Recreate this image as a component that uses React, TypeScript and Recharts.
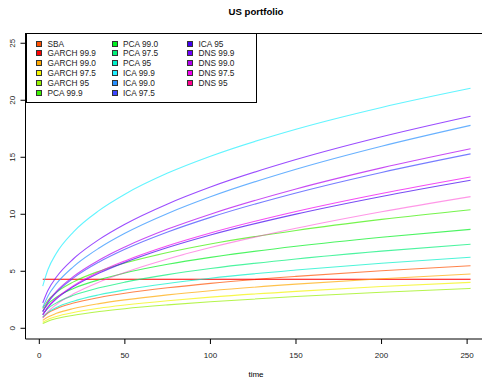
import { LineChart, Line, XAxis, YAxis } from "recharts";

const T = [2, 5, 10, 20, 35, 50, 75, 100, 150, 200, 252];

const SBA = [0.96, 1.34, 1.72, 2.21, 2.7, 3.07, 3.55, 3.94, 4.55, 5.05, 5.49];
const GARCH_999 = [4.3, 4.3, 4.3, 4.3, 4.3, 4.3, 4.3, 4.3, 4.3, 4.3, 4.3];
const GARCH_990 = [0.69, 0.99, 1.31, 1.73, 2.16, 2.49, 2.93, 3.29, 3.87, 4.34, 4.76];
const GARCH_975 = [0.53, 0.78, 1.04, 1.39, 1.76, 2.04, 2.42, 2.73, 3.24, 3.66, 4.03];
const GARCH_95 = [0.42, 0.62, 0.85, 1.15, 1.47, 1.72, 2.05, 2.33, 2.79, 3.16, 3.5];
const PCA_999 = [1.74, 2.44, 3.15, 4.07, 5.01, 5.72, 6.64, 7.39, 8.58, 9.55, 10.4];
const PCA_990 = [1.52, 2.12, 2.72, 3.49, 4.26, 4.85, 5.61, 6.22, 7.2, 7.99, 8.68];
const PCA_975 = [1.23, 1.73, 2.23, 2.89, 3.55, 4.05, 4.71, 5.24, 6.08, 6.77, 7.37];
const PCA_95 = [0.99, 1.4, 1.83, 2.38, 2.94, 3.37, 3.93, 4.39, 5.11, 5.71, 6.23];
const ICA_999 = [3.69, 5.13, 6.59, 8.46, 10.34, 11.76, 13.61, 15.09, 17.46, 19.37, 21.05];
const ICA_990 = [1.83, 2.82, 3.91, 5.41, 7.04, 8.33, 10.07, 11.53, 13.95, 15.97, 17.8];
const ICA_975 = [1.43, 2.24, 3.15, 4.42, 5.82, 6.93, 8.45, 9.73, 11.87, 13.67, 15.3];
const ICA_95 = [1.16, 1.83, 2.59, 3.66, 4.84, 5.78, 7.08, 8.18, 10.01, 11.56, 12.98];
const DNS_999 = [2.22, 3.31, 4.5, 6.1, 7.8, 9.13, 10.91, 12.39, 14.8, 16.8, 18.6];
const DNS_990 = [1.47, 2.31, 3.24, 4.55, 5.99, 7.13, 8.7, 10.01, 12.22, 14.07, 15.75];
const DNS_975 = [1.18, 1.87, 2.64, 3.74, 4.95, 5.91, 7.24, 8.36, 10.24, 11.82, 13.27];
const DNS_95 = [0.89, 1.45, 2.09, 3.02, 4.06, 4.9, 6.08, 7.08, 8.77, 10.22, 11.55];

const NAMES = [
  "SBA", "GARCH 99.9", "GARCH 99.0", "GARCH 97.5", "GARCH 95", "PCA 99.9",
  "PCA 99.0", "PCA 97.5", "PCA 95", "ICA 99.9", "ICA 99.0", "ICA 97.5",
  "ICA 95", "DNS 99.9", "DNS 99.0", "DNS 97.5", "DNS 95",
];
const COLORS = [
  "#FF5000", "#FF0000", "#FFA800", "#F4F400", "#96F000", "#3CF000",
  "#00F020", "#00F078", "#00F0C8", "#20F0FF", "#2890FF", "#3C46FF",
  "#4000F0", "#7000FF", "#B000F0", "#F000F0", "#FF0090",
];
// lines are drawn a little lighter than the legend keys
const LINE_COLORS = [...COLORS.slice(0, 16), "#FF30D0"];
const SERIES = [
  SBA, GARCH_999, GARCH_990, GARCH_975, GARCH_95, PCA_999, PCA_990, PCA_975,
  PCA_95, ICA_999, ICA_990, ICA_975, ICA_95, DNS_999, DNS_990, DNS_975, DNS_95,
];
const X_TICKS = [0, 50, 100, 150, 200, 250];
const Y_TICKS = [0, 5, 10, 15, 20, 25];

const data = T.map((t, i) => {
  const row: Record<string, number> = { t };
  SERIES.forEach((s, k) => (row["s" + k] = s[i]));
  return row;
});

const font = "'Liberation Sans', Arial, sans-serif";

const YTick = ({ y, payload }: any) => (
  <text
    x={15}
    y={y}
    transform={`rotate(-90 15 ${y})`}
    textAnchor="middle"
    fontSize={8}
    fill="#222"
    fontFamily={font}
  >
    {payload.value}
  </text>
);

export default function App() {
  return (
    <div style={{ position: "absolute", left: 0, top: 0, width: 482, height: 381, background: "#fff", fontFamily: font }}>
      <LineChart width={482} height={381} data={data} margin={{ top: 33, right: 0, bottom: 0, left: 0 }}>
        <XAxis
          dataKey="t"
          type="number"
          domain={[-8.07, 258.7]}
          ticks={X_TICKS}
          tickSize={5}
          tickMargin={8}
          height={42}
          stroke="#000"
          tick={{ fontSize: 8, fill: "#222", fontFamily: font }}
          allowDataOverflow
        />
        <YAxis
          type="number"
          domain={[-0.94, 25.9]}
          ticks={Y_TICKS}
          width={25.5}
          tickSize={5}
          stroke="#000"
          tick={<YTick />}
          allowDataOverflow
        />
        {SERIES.map((_, k) => (
          <Line
            key={k}
            type="monotone"
            dataKey={"s" + k}
            stroke={LINE_COLORS[k]}
            strokeOpacity={k === 1 ? 1 : k === 16 ? 0.5 : 0.7}
            strokeWidth={1.1}
            dot={false}
            isAnimationActive={false}
          />
        ))}
      </LineChart>

      {/* top border of the box */}
      <div style={{ position: "absolute", left: 25.5, top: 33, width: 457, height: 0, borderTop: "1px solid #000" }} />

      <div style={{ position: "absolute", left: 0, top: 6, width: 512, textAlign: "center", fontWeight: "bold", fontSize: 9.6 }}>
        US portfolio
      </div>
      <div style={{ position: "absolute", left: 0, top: 370, width: 512, textAlign: "center", fontSize: 8 }}>
        time
      </div>

      <div style={{ position: "absolute", left: 26, top: 33, width: 229, height: 68, border: "1px solid #000", background: "#fff" }}>
        {NAMES.map((n, i) => {
          const col = Math.floor(i / 6);
          const row = i % 6;
          return (
            <div key={n} style={{ position: "absolute", left: 9 + col * 75.5, top: 5 + row * 9.9, height: 9, display: "flex", alignItems: "center" }}>
              <span style={{ width: 4, height: 4, background: COLORS[i], border: "0.8px solid #333", display: "inline-block" }} />
              <span style={{ marginLeft: 5.5, fontSize: 8.3, color: "#222", whiteSpace: "nowrap" }}>{n}</span>
            </div>
          );
        })}
      </div>
    </div>
  );
}
